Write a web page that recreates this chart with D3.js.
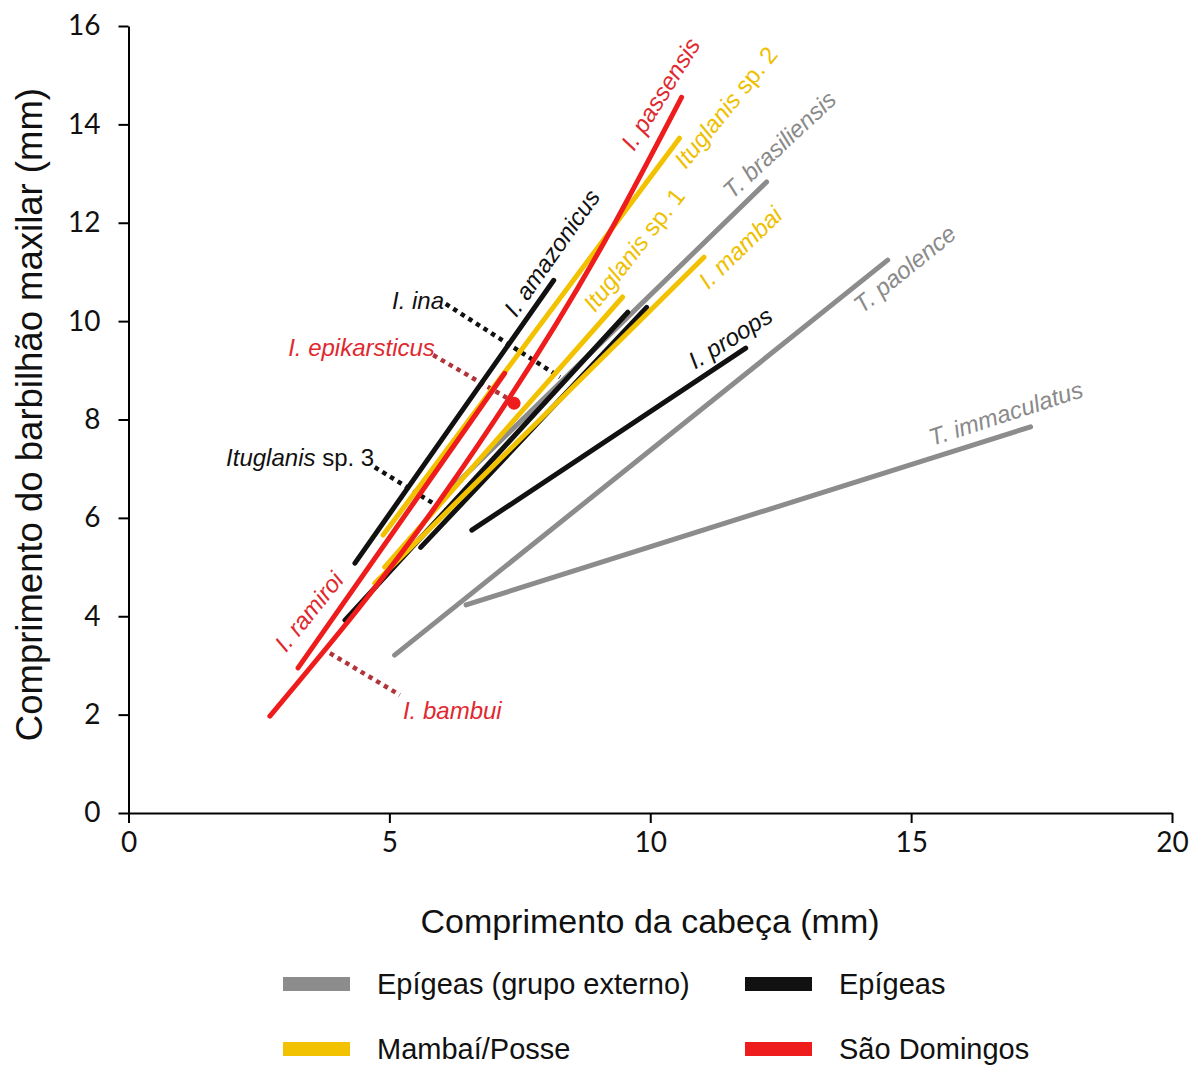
<!DOCTYPE html>
<html>
<head>
<meta charset="utf-8">
<script src="https://cdn.jsdelivr.net/npm/d3@7"></script>
<style>
  body { margin: 0; background: #fff; }
  svg { display: block; }
</style>
</head>
<body>
<div class="canvas"></div>
<script>
// data
const groups = ['Epígeas (grupo externo)', 'Epígeas', 'Mambaí/Posse', 'São Domingos'];
const species = ['T. brasiliensis', 'T. paolence', 'T. immaculatus',
    'I. amazonicus', 'I. proops', 'I. ina', 'Ituglanis sp. 3',
    'Ituglanis sp. 2', 'Ituglanis sp. 1', 'I. mambai',
    'I. ramiroi', 'I. passensis'];
const speciesGroup = [0, 0, 0, 1, 1, 1, 1, 2, 2, 2, 3, 3];
// head length (x) and barbel length (y), mm
const headLength = [
    [6.26, 12.23], [5.10, 14.55], [6.47, 17.29],
    [4.34, 8.15], [6.58, 11.83], [4.15, 9.57], [5.60, 9.93],
    [4.88, 10.56], [4.91, 9.47], [4.72, 11.03],
    [3.25, 7.21], [2.71, 5.97, 9.03, 10.60]
];
const barbelLength = [
    [6.67, 12.83], [3.21, 11.24], [4.23, 7.85],
    [5.08, 10.83], [5.75, 9.45], [3.92, 10.18], [5.40, 10.28],
    [5.65, 13.72], [5.00, 10.49], [4.67, 11.30],
    [2.95, 8.94], [1.97, 6.36, 11.44, 14.55]
];
// single specimen
const epikarsticus = {x: 7.39, y: 8.33};

const xTicks = [0, 5, 10, 15, 20];
const yTicks = [0, 2, 4, 6, 8, 10, 12, 14, 16];

// layout
const width = 1201, height = 1066;
const colors = ['#8c8c8c', '#111111', '#f2c200', '#ee1c1c'];
const labelColors = ['#8a8a8a', '#111111', '#eec000', '#e0292f'];

// label anchors (data units) and rotation
const labels = [
    {t: 'T. brasiliensis', g: 0, x: 11.57, y: 12.46, a: -43},
    {t: 'T. paolence', g: 0, x: 14.06, y: 10.14, a: -39},
    {t: 'T. immaculatus', g: 0, x: 15.40, y: 7.46, a: -18},
    {t: 'I. amazonicus', g: 1, x: 7.43, y: 10.06, a: -55},
    {t: 'I. proops', g: 1, x: 10.86, y: 9.01, a: -32},
    {t: 'I. ina', g: 1, x: 5.05, y: 10.25, a: 0},
    {t: 'Ituglanis', sp: ' sp. 3', g: 1, x: 1.87, y: 7.05, a: 0},
    {t: 'Ituglanis', sp: ' sp. 2', g: 2, x: 10.68, y: 13.07, a: -51},
    {t: 'Ituglanis', sp: ' sp. 1', g: 2, x: 8.94, y: 10.16, a: -52},
    {t: 'I. mambai', g: 2, x: 11.11, y: 10.63, a: -44},
    {t: 'I. ramiroi', g: 3, x: 3.02, y: 3.25, a: -51},
    {t: 'I. passensis', g: 3, x: 9.69, y: 13.44, a: -58},
    {t: 'I. epikarsticus', g: 3, x: 3.06, y: 9.29, a: 0},
    {t: 'I. bambui', g: 3, x: 5.26, y: 1.91, a: 0}
];
// dotted pointers from labels to lines
const pointers = [
    {g: 1, x: [6.08, 8.27], y: [10.35, 8.86]},
    {g: 1, x: [4.72, 6.20], y: [7.03, 6.06]},
    {g: 3, x: [5.84, 7.25], y: [9.31, 8.44]},
    {g: 3, x: [3.86, 5.20], y: [3.25, 2.40]}
];
const pointerColors = ['#8c8c8c', '#111111', '#c9a400', '#b0343a'];

const svg = d3.select('.canvas')
    .append('svg')
        .attr('width', width)
        .attr('height', height);

svg.append('rect')
    .attr('width', width)
    .attr('height', height)
    .attr('fill', '#fff');

const x = d3.scaleLinear().domain([0, 20]).range([128.5, 1172]);
const y = d3.scaleLinear().domain([0, 16]).range([813, 26]);

// axes
const xAxis = d3.axisBottom(x).tickValues(xTicks).tickSize(10).tickSizeOuter(0).tickPadding(9);
const yAxis = d3.axisLeft(y).tickValues(yTicks).tickSize(10).tickSizeOuter(0).tickPadding(18);

const xAxisGroup = svg.append('g')
    .attr('transform', `translate(0, ${y(0)})`)
    .call(xAxis);
const yAxisGroup = svg.append('g')
    .attr('transform', `translate(${x(0)}, 0)`)
    .call(yAxis);

[xAxisGroup, yAxisGroup].forEach(g => {
    g.select('.domain').attr('stroke', '#000').attr('stroke-width', 2);
    g.selectAll('.tick line').attr('stroke', '#000').attr('stroke-width', 2);
    g.selectAll('.tick text')
        .attr('fill', '#111')
        .attr('font-family', 'Lato, "Open Sans", sans-serif')
        .attr('font-size', 28);
});

// axis titles
svg.append('text')
    .attr('x', 650)
    .attr('y', 933)
    .attr('text-anchor', 'middle')
    .attr('font-family', '"Liberation Sans", Arial, sans-serif')
    .attr('font-size', 34)
    .attr('fill', '#111')
    .text('Comprimento da cabeça (mm)');

svg.append('text')
    .attr('transform', `translate(42, ${y(8.1)}) rotate(-90)`)
    .attr('text-anchor', 'middle')
    .attr('font-family', '"Liberation Sans", Arial, sans-serif')
    .attr('font-size', 36.5)
    .attr('fill', '#111')
    .text('Comprimento do barbilhão maxilar (mm)');

// dotted pointers
const line = d3.line().x(d => x(d[0])).y(d => y(d[1]));
svg.append('g').selectAll('path')
    .data(pointers)
    .enter()
    .append('path')
        .attr('d', d => line(d3.zip(d.x, d.y)))
        .attr('fill', 'none')
        .attr('stroke', d => pointerColors[d.g])
        .attr('stroke-width', 4.5)
        .attr('stroke-dasharray', '4.5 4.5');

// regression lines
const curve = d3.line().x(d => x(d[0])).y(d => y(d[1])).curve(d3.curveMonotoneX);
const drawOrder = [0, 1, 2, 3, 5, 6, 4, 7, 8, 9, 10, 11];
svg.append('g').selectAll('path')
    .data(drawOrder)
    .enter()
    .append('path')
        .attr('d', i => curve(d3.zip(headLength[i], barbelLength[i])))
        .attr('fill', 'none')
        .attr('stroke', i => colors[speciesGroup[i]])
        .attr('stroke-width', 5)
        .attr('stroke-linecap', 'round');

svg.append('circle')
    .attr('cx', x(epikarsticus.x))
    .attr('cy', y(epikarsticus.y))
    .attr('r', 6.5)
    .attr('fill', colors[3]);

// species labels
const lbl = svg.append('g').selectAll('text')
    .data(labels)
    .enter()
    .append('text')
        .attr('transform', d => `translate(${x(d.x)}, ${y(d.y)}) rotate(${d.a})`)
        .attr('font-family', '"Liberation Sans", Arial, sans-serif')
        .attr('font-size', 24)
        .attr('fill', d => labelColors[d.g]);

lbl.append('tspan')
    .attr('font-style', 'italic')
    .text(d => d.t);
lbl.filter(d => d.sp)
    .append('tspan')
    .text(d => d.sp);

// legend
const legendPos = [[283, 984], [745, 984], [283, 1049], [745, 1049]];
const legend = svg.append('g').selectAll('g')
    .data(groups)
    .enter()
    .append('g')
        .attr('transform', (d, i) => `translate(${legendPos[i][0]}, ${legendPos[i][1]})`);

legend.append('rect')
    .attr('x', 0)
    .attr('y', -7)
    .attr('width', 67)
    .attr('height', 14)
    .attr('fill', (d, i) => colors[i]);

legend.append('text')
    .attr('x', 94)
    .attr('y', 10)
    .attr('font-family', '"Liberation Sans", Arial, sans-serif')
    .attr('font-size', 29)
    .attr('fill', '#111')
    .text(d => d);
</script>
</body>
</html>
